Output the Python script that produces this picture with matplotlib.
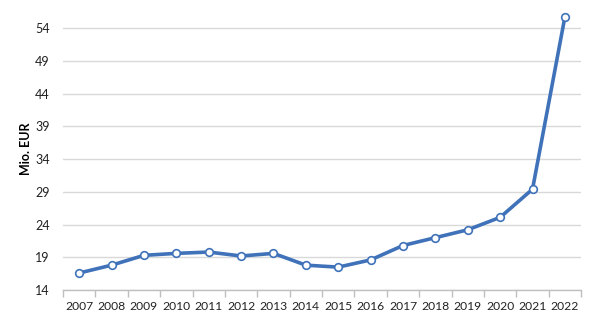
import matplotlib
matplotlib.use('Agg')
import matplotlib.pyplot as plt
from matplotlib.ticker import FixedLocator, NullFormatter

plt.rcParams['font.family'] = ['Lato', 'DejaVu Sans']

# Data
years = ['2007', '2008', '2009', '2010', '2011', '2012', '2013', '2014',
         '2015', '2016', '2017', '2018', '2019', '2020', '2021', '2022']
values = [16.6, 17.8, 19.3, 19.6, 19.8, 19.2, 19.6, 17.8,
          17.5, 18.6, 20.8, 22.0, 23.2, 25.1, 29.4, 55.7]
yticks = [14, 19, 24, 29, 34, 39, 44, 49, 54]
ylabel = 'Mio. EUR'

blue = '#3F72B9'
grid = '#D9D9D9'

fig = plt.figure(figsize=(5.96, 3.23), dpi=100)
ax = fig.add_axes([0.1057, 0.102, 0.8693, 0.872])

x = list(range(len(years)))
ax.plot(x, values, color=blue, lw=2.6, marker='o', ms=5.5,
        mfc='white', mec=blue, mew=1.2, zorder=3, clip_on=False)

ax.set_xlim(-0.5, len(years) - 0.5)
ax.set_ylim(14, 57)

ax.set_yticks(yticks)
ax.set_yticklabels([str(t) for t in yticks])
ax.yaxis.grid(True, color=grid, lw=1)
ax.set_axisbelow(True)

# category labels centred, ticks between categories
ax.set_xticks(x)
ax.set_xticklabels(years)
ax.xaxis.set_minor_locator(FixedLocator([i - 0.5 for i in range(len(years) + 1)]))
ax.xaxis.set_minor_formatter(NullFormatter())
ax.tick_params(axis='x', which='major', length=0, pad=8, labelsize=8.7, colors='#222222')
ax.tick_params(axis='x', which='minor', length=5, width=1, color='#BFBFBF')
ax.tick_params(axis='y', length=0, pad=9.5, labelsize=9, colors='#222222')

for s in ['top', 'right', 'left']:
    ax.spines[s].set_visible(False)
ax.spines['bottom'].set_color('#BFBFBF')
ax.spines['bottom'].set_linewidth(1)

ax.set_ylabel(ylabel, fontsize=9, fontweight='bold', labelpad=2.5)

fig.savefig('out.png', dpi=100)
